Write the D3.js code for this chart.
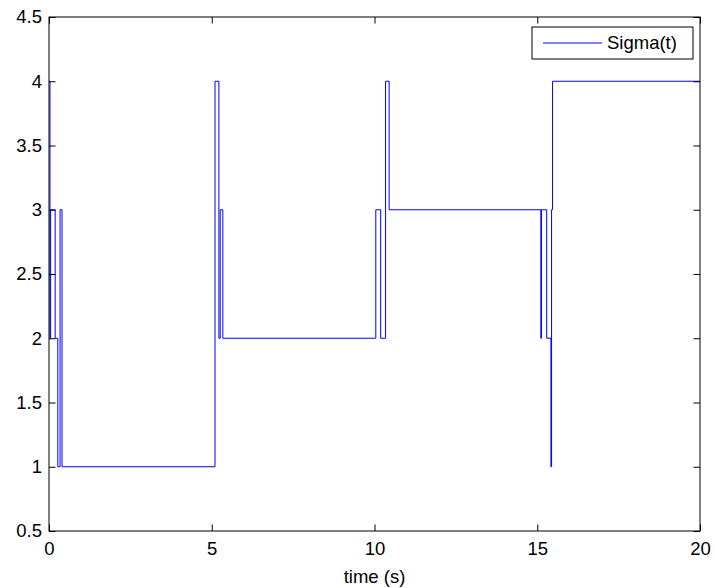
<!DOCTYPE html>
<html>
<head>
<meta charset="utf-8">
<script src="https://cdn.jsdelivr.net/npm/d3@7"></script>
<style>
  html, body { margin: 0; padding: 0; background: #fff; }
  svg { display: block; }
  text { font-family: "Liberation Sans", Arial, Helvetica, sans-serif; fill: #000; }
</style>
</head>
<body>
<svg id="chart" width="715" height="588"></svg>
<script>
// ---- data ----
const times = [0, 0.03, 0.05, 0.19, 0.27, 0.34, 0.40, 5.10, 5.22, 5.26, 5.34, 10.04, 10.19, 10.34, 10.45, 15.11, 15.13, 15.29, 15.42, 15.44, 15.47, 20];
const sigma = [4, 2, 3, 2, 1, 3, 1, 4, 2, 3, 2, 3, 2, 4, 3, 2, 3, 2, 1, 3, 4, 4];
const xTicks = [0, 5, 10, 15, 20];
const yTicks = [0.5, 1, 1.5, 2, 2.5, 3, 3.5, 4, 4.5];
const xDomain = [0, 20];
const yDomain = [0.5, 4.5];
const seriesName = "Sigma(t)";
const xLabel = "time (s)";

(function () {
// ---- layout ----
const pL = 49, pR = 700, pT = 17, pB = 531;
const fs = 18.5;
const svg = d3.select("#chart");

const x = d3.scaleLinear().domain(xDomain).range([pL, pR]);
const y = d3.scaleLinear().domain(yDomain).range([pB, pT]);

const data = times.map((t, i) => ({t, v: sigma[i]}));

svg.append("rect").attr("x", pL).attr("y", pT)
  .attr("width", pR - pL).attr("height", pB - pT)
  .attr("fill", "#fff");

const line = d3.line().x(d => x(d.t)).y(d => y(d.v)).curve(d3.curveStepAfter);
svg.append("path").datum(data)
  .attr("d", line)
  .attr("fill", "none")
  .attr("stroke", "#0000ff")
  .attr("stroke-width", 1);

const tl = 6.5;
const axB = svg.append("g").attr("transform", `translate(0,${pB})`)
  .call(d3.axisBottom(x).tickValues(xTicks).tickSizeInner(-tl).tickSizeOuter(0).tickPadding(11).tickFormat(d3.format("d")));
const axT = svg.append("g").attr("transform", `translate(0,${pT})`)
  .call(d3.axisTop(x).tickValues(xTicks).tickSizeInner(-tl).tickSizeOuter(0).tickFormat(""));
const axL = svg.append("g").attr("transform", `translate(${pL},0)`)
  .call(d3.axisLeft(y).tickValues(yTicks).tickSizeInner(-tl).tickSizeOuter(0).tickPadding(7).tickFormat(d => String(d)));
const axR = svg.append("g").attr("transform", `translate(${pR},0)`)
  .call(d3.axisRight(y).tickValues(yTicks).tickSizeInner(-tl).tickSizeOuter(0).tickFormat(""));

[axB, axT, axL, axR].forEach(g => {
  g.select(".domain").remove();
  g.selectAll("line").attr("stroke", "#000").attr("stroke-width", 1);
  g.selectAll("text").attr("font-size", fs).attr("font-family", "Liberation Sans, Arial, sans-serif").attr("fill", "#000");
});

svg.append("rect").attr("x", pL).attr("y", pT)
  .attr("width", pR - pL).attr("height", pB - pT)
  .attr("fill", "none").attr("stroke", "#000").attr("stroke-width", 1);

svg.append("text").attr("x", (pL + pR) / 2).attr("y", 583)
  .attr("text-anchor", "middle").attr("font-size", fs).text(xLabel);

const lg = svg.append("g");
lg.append("rect").attr("x", 532).attr("y", 27).attr("width", 161).attr("height", 32)
  .attr("fill", "#fff").attr("stroke", "#000").attr("stroke-width", 1);
lg.append("line").attr("x1", 543).attr("x2", 602).attr("y1", 43).attr("y2", 43)
  .attr("stroke", "#0000ff").attr("stroke-width", 1);
lg.append("text").attr("x", 607).attr("y", 43).attr("dy", "0.35em")
  .attr("font-size", fs).text(seriesName);
})();
</script>
</body>
</html>
